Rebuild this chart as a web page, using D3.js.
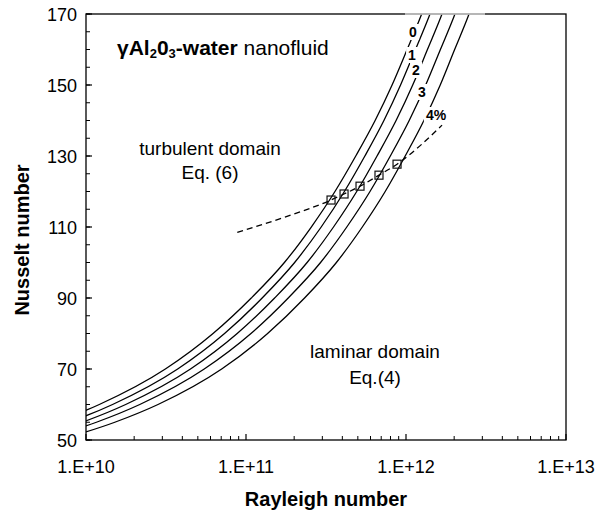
<!DOCTYPE html>
<html><head><meta charset="utf-8">
<script src="https://cdn.jsdelivr.net/npm/d3@7"></script>
<style>body{margin:0;background:#fff}svg{display:block}text{font-family:"Liberation Sans",Arial,Helvetica,sans-serif}</style>
</head><body><svg id="c" width="598" height="517"></svg>
<script>
// Nusselt levels and the log10(Rayleigh) at which each curve reaches them
const nuLevels = [50, 55, 60, 70, 80, 90, 100, 110, 120, 130, 140, 150, 160, 170, 180];
const logRa0 = [9.464, 9.810, 10.083, 10.496, 10.794, 11.033, 11.240, 11.408, 11.556, 11.686, 11.807, 11.913, 12.007, 12.098, 12.180];
const logRa1 = [9.549, 9.895, 10.166, 10.573, 10.866, 11.101, 11.304, 11.470, 11.615, 11.743, 11.862, 11.966, 12.059, 12.150, 12.229];
const logRa2 = [9.631, 9.977, 10.248, 10.653, 10.945, 11.179, 11.382, 11.547, 11.692, 11.819, 11.938, 12.042, 12.134, 12.225, 12.303];
const logRa3 = [9.719, 10.065, 10.336, 10.739, 11.031, 11.264, 11.466, 11.630, 11.775, 11.902, 12.020, 12.123, 12.215, 12.306, 12.384];
const logRa4 = [9.834, 10.180, 10.450, 10.848, 11.135, 11.366, 11.565, 11.727, 11.870, 11.995, 12.112, 12.214, 12.304, 12.394, 12.471];
const curveLabels = ["0", "1", "2", "3", "4%"];
// transition line (dashed) and its intersections (squares)
const transRa = [8.82e10, 1.75e11, 3.40e11, 4.10e11, 5.16e11, 6.78e11, 8.79e11, 1.68e12];
const transNu = [108.5, 112.8, 117.6, 119.3, 121.5, 124.6, 127.7, 138.7];
const squareRa = [3.40e11, 4.10e11, 5.16e11, 6.78e11, 8.79e11];
const squareNu = [117.6, 119.3, 121.5, 124.6, 127.7];
const xTickValues = [1e10, 1e11, 1e12, 1e13];
const xTickLabels = ["1.E+10", "1.E+11", "1.E+12", "1.E+13"];
const yTickValues = [50, 70, 90, 110, 130, 150, 170];

const svg = d3.select("#c");
const L = 86, R = 566, T = 14, B = 440;
const x = d3.scaleLog().domain([1e10, 1e13]).range([L, R]);
const y = d3.scaleLinear().domain([50, 170]).range([B, T]);

svg.append("clipPath").attr("id", "clip").append("rect")
  .attr("x", L).attr("y", T).attr("width", R - L).attr("height", B - T);

const g = svg.append("g").attr("clip-path", "url(#clip)");
const line = d3.line().x(d => x(d[0])).y(d => y(d[1])).curve(d3.curveMonotoneX);
const series = [logRa0, logRa1, logRa2, logRa3, logRa4];
series.forEach(s => {
  const pts = s.map((lr, i) => [Math.pow(10, lr), nuLevels[i]]);
  g.append("path").attr("d", line(pts)).attr("fill", "none")
    .attr("stroke", "#000").attr("stroke-width", 1.3);
});

// dashed transition
g.append("path").attr("d", line(transRa.map((r, i) => [r, transNu[i]])))
  .attr("fill", "none").attr("stroke", "#000").attr("stroke-width", 1.3)
  .attr("stroke-dasharray", "6,4");

// squares
const sq = 8;
g.selectAll("rect.sq").data(squareRa).enter().append("rect")
  .attr("x", (d) => x(d) - sq / 2).attr("y", (d, i) => y(squareNu[i]) - sq / 2)
  .attr("width", sq).attr("height", sq).attr("fill", "none")
  .attr("stroke", "#111").attr("stroke-width", 1.2);

// curve labels with white backgrounds
const labelPos = [[413, 32], [412, 55], [416, 70], [422, 92], [436, 115]];
curveLabels.forEach((t, i) => {
  const [cx, cy] = labelPos[i];
  const tx = svg.append("text").attr("x", cx).attr("y", cy + 5).attr("text-anchor", "middle")
    .attr("font-size", 14).attr("font-weight", "bold").text(t);
  const bb = tx.node().getBBox();
  svg.insert("rect", "text").attr("x", bb.x - 2).attr("y", bb.y).attr("width", bb.width + 4)
    .attr("height", bb.height).attr("fill", "#fff");
});

// frame
svg.append("rect").attr("x", L).attr("y", T).attr("width", R - L).attr("height", B - T)
  .attr("fill", "none").attr("stroke", "#000").attr("stroke-width", 1.3);
svg.append("line").attr("x1", 405).attr("x2", 485).attr("y1", T).attr("y2", T)
  .attr("stroke", "#d6d6d6").attr("stroke-width", 1.4);

// x ticks
const xMinor = [];
[1e10, 1e11, 1e12].forEach(dec => { for (let k = 2; k <= 9; k++) xMinor.push(k * dec); });
svg.selectAll("line.xm").data(xMinor).enter().append("line")
  .attr("x1", d => x(d)).attr("x2", d => x(d)).attr("y1", B).attr("y2", B - 4)
  .attr("stroke", "#000").attr("stroke-width", 1);
svg.selectAll("line.xM").data(xTickValues).enter().append("line")
  .attr("x1", d => x(d)).attr("x2", d => x(d)).attr("y1", B).attr("y2", B - 6)
  .attr("stroke", "#000").attr("stroke-width", 1.2);
svg.selectAll("text.xl").data(xTickValues).enter().append("text")
  .attr("x", d => x(d)).attr("y", 473).attr("text-anchor", "middle")
  .attr("font-size", 18).text((d, i) => xTickLabels[i]);

// y ticks
const yMinor = d3.range(50, 171, 5);
svg.selectAll("line.ym").data(yMinor).enter().append("line")
  .attr("x1", L).attr("x2", L + 4).attr("y1", d => y(d)).attr("y2", d => y(d))
  .attr("stroke", "#000").attr("stroke-width", 1);
svg.selectAll("line.yM").data(yTickValues).enter().append("line")
  .attr("x1", L).attr("x2", L + 6).attr("y1", d => y(d)).attr("y2", d => y(d))
  .attr("stroke", "#000").attr("stroke-width", 1.2);
svg.selectAll("text.yl").data(yTickValues).enter().append("text")
  .attr("x", 77).attr("y", d => y(d) + 6.5).attr("text-anchor", "end")
  .attr("font-size", 18).text(d => d);

// axis titles
svg.append("text").attr("x", (L + R) / 2).attr("y", 506).attr("text-anchor", "middle")
  .attr("font-size", 20).attr("font-weight", "bold").text("Rayleigh number");
svg.append("text").attr("transform", `translate(29,240) rotate(-90)`)
  .attr("text-anchor", "middle").attr("font-size", 20).attr("font-weight", "bold").text("Nusselt number");

// title
const tt = svg.append("text").attr("x", 117).attr("y", 55).attr("font-size", 21);
tt.append("tspan").attr("font-weight", "bold").text("γAl");
tt.append("tspan").attr("font-weight", "bold").attr("font-size", 13).attr("dy", 3).text("2");
tt.append("tspan").attr("font-weight", "bold").attr("dy", -3).text("0");
tt.append("tspan").attr("font-weight", "bold").attr("font-size", 13).attr("dy", 3).text("3");
tt.append("tspan").attr("font-weight", "bold").attr("dy", -3).text("-water");
tt.append("tspan").text(" nanofluid");

// domain annotations
const ann = [["turbulent domain", 210, 155], ["Eq. (6)", 210, 179], ["laminar domain", 375, 358], ["Eq.(4)", 375, 384]];
ann.forEach(a => svg.append("text").attr("x", a[1]).attr("y", a[2]).attr("text-anchor", "middle")
  .attr("font-size", 19).text(a[0]));
</script></body></html>
